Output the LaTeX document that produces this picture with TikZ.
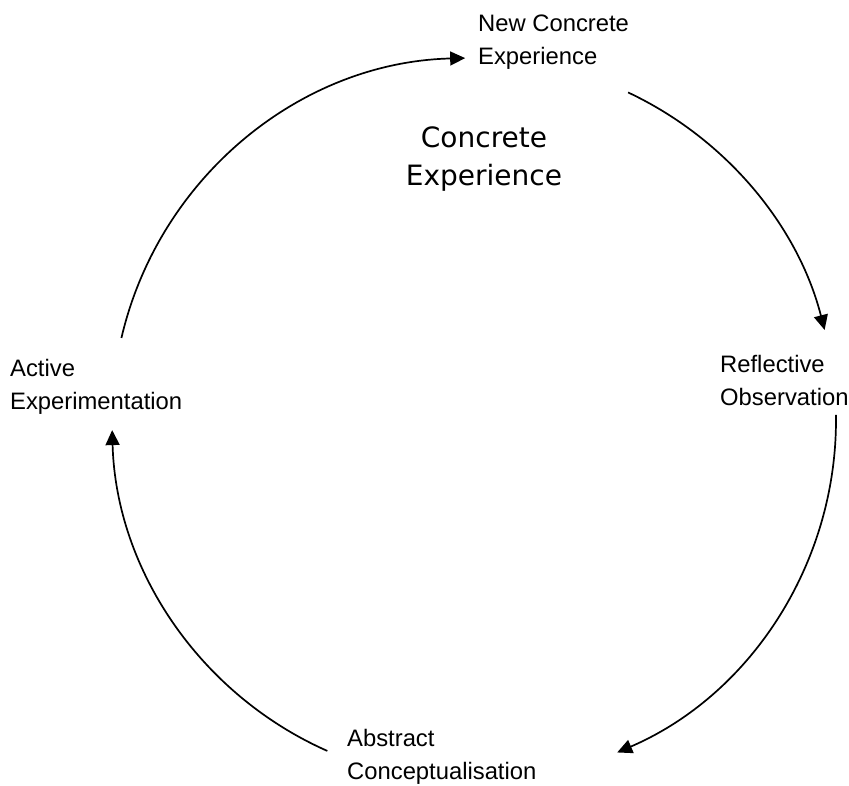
\documentclass[tikz,border=0pt]{standalone}
\usepackage{fontspec}
\setmainfont{Liberation Sans}
\newfontfamily\comicfont{DejaVu Sans}
\usetikzlibrary{arrows.meta,calc}
\begin{document}
\begin{tikzpicture}[x=1pt,y=1pt,
  lbl/.style={inner sep=0pt, anchor=north west, align=left, font=\fontsize{23.8}{33}\selectfont},
  title/.style={inner sep=0pt, anchor=north, align=center, font=\comicfont\fontsize{28}{38}\selectfont},
  cyc/.style={line width=1.7pt, -{Triangle[length=15pt,width=14pt]}}]
\useasboundingbox (0,0) rectangle (849,786);
\coordinate (c) at (474,366);
\node[lbl] (nce) at (478,771) {New Concrete\\Experience};
\node[lbl] (ro) at (720,431) {Reflective\\Observation};
\node[lbl] (ae) at (10,427) {Active\\Experimentation};
\node[lbl] (ac) at (347,57) {Abstract\\Conceptualisation};
\node[title] (ce) at (484,659) {Concrete\\Experience};
\coordinate (a1s) at ($(c)+(166.9:362)$);
\coordinate (a2s) at ($(c)+(64.8:362)$);
\coordinate (a3s) at ($(c)+(0.8:362)$);
\coordinate (a4s) at ($(c)+(246.1:362)$);
\draw[cyc] (a1s) arc[start angle=166.9, end angle=91.4, radius=362];
\draw[cyc] (a2s) arc[start angle=64.8, end angle=14.4, radius=362];
\draw[cyc] (a3s) arc[start angle=0.8, end angle=-66.7, radius=362];
\draw[cyc] (a4s) arc[start angle=246.1, end angle=181.6, radius=362];
\end{tikzpicture}
\end{document}
